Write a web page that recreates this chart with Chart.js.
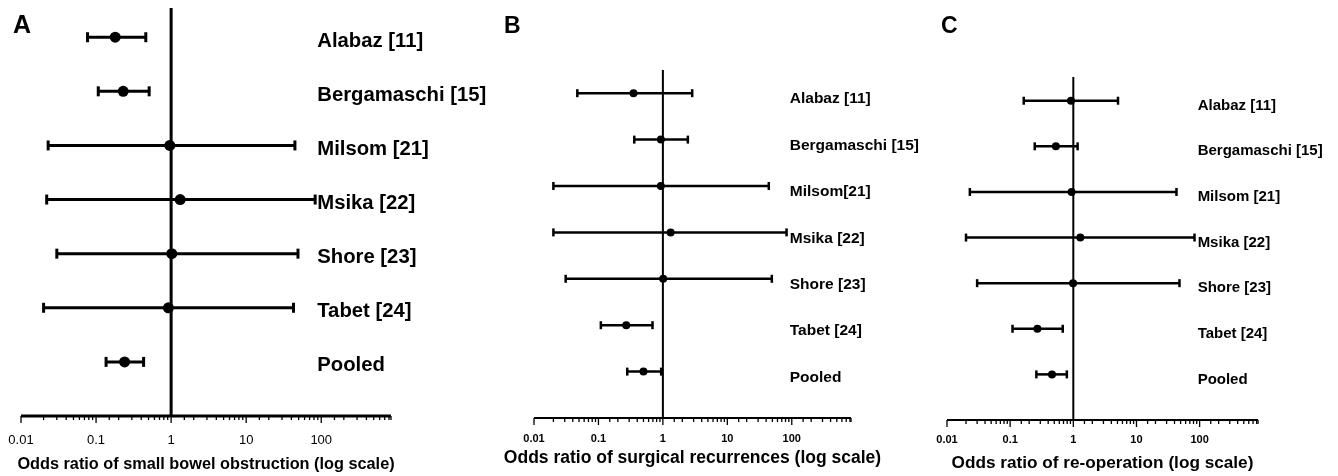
<!DOCTYPE html>
<html>
<head>
<meta charset="utf-8">
<script src="https://cdn.jsdelivr.net/npm/chart.js@4.4.0/dist/chart.umd.min.js"></script>
<style>
html, body { margin: 0; padding: 0; background: #fff; }
#wrap { position: relative; width: 1338px; height: 476px; overflow: hidden; }
canvas { position: absolute; top: 0; }
</style>
</head>
<body>
<div id="wrap">
  <canvas id="chartA" style="left:0px" width="520" height="476"></canvas>
  <canvas id="chartB" style="left:460px" width="500" height="476"></canvas>
  <canvas id="chartC" style="left:920px" width="418" height="476"></canvas>
</div>
<script>
// Study labels per panel
const studiesA = ['Alabaz [11]', 'Bergamaschi [15]', 'Milsom [21]', 'Msika [22]', 'Shore [23]', 'Tabet [24]', 'Pooled'];
const studiesB = ['Alabaz [11]', 'Bergamaschi [15]', 'Milsom[21]', 'Msika [22]', 'Shore [23]', 'Tabet [24]', 'Pooled'];
const studiesC = ['Alabaz [11]', 'Bergamaschi [15]', 'Milsom [21]', 'Msika [22]', 'Shore [23]', 'Tabet [24]', 'Pooled'];

// A: small bowel obstruction
const orA = [0.18, 0.23, 0.96, 1.32, 1.02, 0.92, 0.24];
const loA = [0.077, 0.107, 0.023, 0.022, 0.030, 0.020, 0.136];
const hiA = [0.46, 0.51, 44.6, 83, 49, 42.7, 0.43];

// B: surgical recurrences
const orB = [0.35, 0.93, 0.93, 1.32, 1.01, 0.27, 0.50];
const loB = [0.047, 0.36, 0.020, 0.020, 0.031, 0.109, 0.28];
const hiB = [2.85, 2.44, 44, 83, 49, 0.69, 0.94];

// C: re-operation
const orC = [0.92, 0.53, 0.94, 1.29, 0.99, 0.27, 0.46];
const loC = [0.164, 0.245, 0.023, 0.020, 0.030, 0.109, 0.26];
const hiC = [5.1, 1.17, 43, 83, 48, 0.68, 0.79];

// x axis tick labels (log scale)
const tickValues = [0.01, 0.1, 1, 10, 100];
const tickLabels = ['0.01', '0.1', '1', '10', '100'];

const titleA = 'Odds ratio of small bowel obstruction (log scale)';
const titleB = 'Odds ratio of surgical recurrences (log scale)';
const titleC = 'Odds ratio of re-operation (log scale)';

const FONT = '"Liberation Sans", Arial, Helvetica, sans-serif';

// axis line, log ticks, axis title, study names and panel letter
const forestExtras = {
  id: 'forestExtras',
  afterDraw(chart, args, o) {
    const ctx = chart.ctx;
    const x = chart.scales.x, y = chart.scales.y;
    ctx.save();
    ctx.strokeStyle = '#000';
    ctx.lineWidth = o.axisWidth;
    ctx.beginPath();
    ctx.moveTo(x.left, x.top);
    ctx.lineTo(x.right, x.top);
    ctx.stroke();
    ctx.lineWidth = 1.3;
    x.ticks.forEach(t => {
      const px = x.getPixelForValue(t.value);
      const lg = Math.log10(t.value);
      const len = Math.abs(lg - Math.round(lg)) < 1e-6 ? o.majorLen : o.minorLen;
      ctx.beginPath();
      ctx.moveTo(px, x.top);
      ctx.lineTo(px, x.top + len);
      ctx.stroke();
    });
    ctx.fillStyle = '#000';
    ctx.textBaseline = 'middle';
    ctx.textAlign = 'center';
    ctx.font = 'bold ' + o.titleSize + 'px ' + FONT;
    ctx.fillText(o.title, (x.left + x.right) / 2, o.titleY);
    ctx.font = 'bold ' + o.labelSize + 'px ' + FONT;
    ctx.textAlign = 'left';
    const lx = x.getPixelForValue(100) + o.labelShift;
    o.labels.forEach((s, i) => ctx.fillText(s, lx, y.getPixelForValue(i) + o.labelDrop));
    ctx.font = 'bold ' + o.letterSize + 'px ' + FONT;
    ctx.textBaseline = 'alphabetic';
    ctx.fillText(o.letter, o.letterX, o.letterY);
    ctx.restore();
  }
};

function makePanel(id, p) {
  const datasets = [];
  // line of no effect
  datasets.push({
    data: [{x: 1, y: p.yMin}, {x: 1, y: 7}],
    showLine: true, borderColor: '#000', borderWidth: p.refWidth, pointRadius: 0
  });
  // confidence intervals with end caps
  p.labels.forEach((s, i) => datasets.push({
    data: [{x: p.lo[i], y: i}, {x: p.hi[i], y: i}],
    showLine: true, borderColor: '#000', borderWidth: p.barWidth,
    pointStyle: 'line', rotation: 90, pointRadius: p.capRadius,
    pointBorderColor: '#000', pointBorderWidth: p.barWidth
  }));
  // odds ratios
  datasets.push({
    data: p.or.map((v, i) => ({x: v, y: i})),
    pointRadius: p.dotRadius, pointBackgroundColor: '#000', pointBorderColor: '#000', pointBorderWidth: 0
  });

  return new Chart(document.getElementById(id), {
    type: 'scatter',
    data: {datasets: datasets},
    plugins: [forestExtras],
    options: {
      responsive: false,
      animation: false,
      events: [],
      layout: {padding: p.padding},
      plugins: {
        legend: {display: false},
        tooltip: {enabled: false},
        forestExtras: {
          labels: p.labels, labelSize: p.labelSize, labelShift: p.labelShift, labelDrop: p.labelDrop,
          title: p.title, titleSize: p.titleSize, titleY: p.titleY,
          letter: p.letter, letterSize: p.letterSize, letterX: p.letterX, letterY: 33,
          axisWidth: p.axisWidth, majorLen: 7, minorLen: 4
        }
      },
      scales: {
        x: {
          type: 'logarithmic', min: 0.01, max: p.xMax,
          border: {display: false},
          grid: {display: false, drawTicks: false},
          ticks: {
            autoSkip: false, maxRotation: 0, minRotation: 0, padding: p.tickPad, color: '#000',
            font: {family: FONT, size: p.tickSize, weight: p.tickWeight},
            callback: v => {
              const k = tickValues.findIndex(t => Math.abs(t - v) / t < 1e-6);
              return k >= 0 ? tickLabels[k] : '';
            }
          },
          afterFit: s => { s.height = p.axisHeight; s.paddingLeft = 0; s.paddingRight = 0; }
        },
        y: {type: 'linear', reverse: true, min: p.yMin, max: 7, display: false}
      }
    }
  });
}

makePanel('chartA', {
  labels: studiesA, or: orA, lo: loA, hi: hiA, title: titleA, letter: 'A',
  padding: {left: 21, right: 129, top: 8, bottom: 0}, axisHeight: 60, yMin: -0.54, xMax: 850,
  tickSize: 13, tickWeight: 'normal', tickPad: 17, titleSize: 16.3, titleY: 465,
  barWidth: 3, capRadius: 5, dotRadius: 5.5, refWidth: 3, axisWidth: 3,
  labelSize: 20.3, labelShift: -4, labelDrop: 4, letterSize: 25, letterX: 13
});
makePanel('chartB', {
  labels: studiesB, or: orB, lo: loB, hi: hiB, title: titleB, letter: 'B',
  padding: {left: 74, right: 109, top: 70, bottom: 0}, axisHeight: 58, yMin: -0.5, xMax: 830,
  tickSize: 11, tickWeight: 'bold', tickPad: 14, titleSize: 17.5, titleY: 458,
  barWidth: 2.5, capRadius: 4, dotRadius: 4, refWidth: 2, axisWidth: 2,
  labelSize: 15.5, labelShift: -2, labelDrop: 6, letterSize: 23, letterX: 44
});
makePanel('chartC', {
  labels: studiesC, or: orC, lo: loC, hi: hiC, title: titleC, letter: 'C',
  padding: {left: 27, right: 80, top: 77, bottom: 0}, axisHeight: 56, yMin: -0.52, xMax: 840,
  tickSize: 11, tickWeight: 'bold', tickPad: 13, titleSize: 17.2, titleY: 463,
  barWidth: 2.5, capRadius: 4, dotRadius: 4, refWidth: 2, axisWidth: 2,
  labelSize: 15, labelShift: -2, labelDrop: 5, letterSize: 23, letterX: 21
});
</script>
</body>
</html>
